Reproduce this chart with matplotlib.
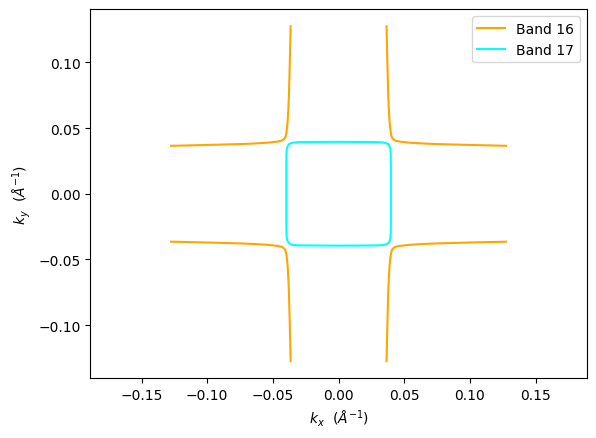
import numpy as np
import matplotlib
matplotlib.use("Agg")
import matplotlib.pyplot as plt

# Band 16: first-quadrant branch (kx, ky)
band16_kx = [0.0365, 0.0370, 0.0374, 0.0378, 0.0382, 0.0388, 0.0393, 0.0398, 0.0402,
             0.0408, 0.0416, 0.0425, 0.0440, 0.0460, 0.0500, 0.0550, 0.0650, 0.0750,
             0.0900, 0.1050, 0.1275]
band16_ky = [0.1275, 0.1050, 0.0900, 0.0750, 0.0650, 0.0550, 0.0500, 0.0460, 0.0440,
             0.0425, 0.0416, 0.0408, 0.0402, 0.0398, 0.0393, 0.0388, 0.0382, 0.0378,
             0.0374, 0.0370, 0.0365]

# Band 17: first-quadrant quarter of the rounded square
band17_kx = [0.0398, 0.0398, 0.0397, 0.0394, 0.0388, 0.0378, 0.0362, 0.0340, 0.0300,
             0.0200, 0.0000]
band17_ky = [0.0000, 0.0200, 0.0300, 0.0340, 0.0362, 0.0376, 0.0385, 0.0390, 0.0393,
             0.0394, 0.0395]

labels = ["Band 16", "Band 17"]
colors = ["orange", "cyan"]

fig = plt.figure(figsize=(5.96, 4.39), dpi=100)
ax = fig.add_axes([0.1518, 0.1367, 0.8326, 0.8394])

kx16 = np.array(band16_kx)
ky16 = np.array(band16_ky)
first = True
for sx in (1, -1):
    for sy in (1, -1):
        ax.plot(sx * kx16, sy * ky16, color=colors[0],
                label=labels[0] if first else None)
        first = False

kx17 = np.array(band17_kx)
ky17 = np.array(band17_ky)
loop_x = np.concatenate([kx17[5:], -kx17[::-1][1:], -kx17[1:], kx17[::-1][1:], kx17[1:6]])
loop_y = np.concatenate([ky17[5:], ky17[::-1][1:], -ky17[1:], -ky17[::-1][1:], ky17[1:6]])
ax.plot(loop_x, loop_y, color=colors[1], label=labels[1])

ax.axis('equal')
ax.set_xlabel(r'$k_x$  ($\AA^{-1}$)')
ax.set_ylabel(r'$k_y$  ($\AA^{-1}$)')
ax.legend(loc='upper right')

fig.savefig("out.png", dpi=100)
